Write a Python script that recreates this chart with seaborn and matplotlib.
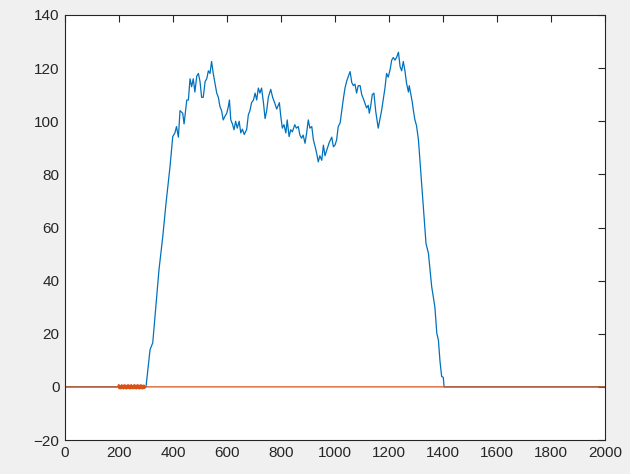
import numpy as np
import pandas as pd
import matplotlib
matplotlib.use('Agg')
import matplotlib.pyplot as plt
import seaborn as sns

# ------------------------------------------------------------
# data
# ------------------------------------------------------------
blue_x = [0, 300, 315, 325, 333, 348, 362, 374, 389, 399, 407, 413, 420, 426, 436,
          441, 451, 457, 463, 469, 475, 481, 488, 494, 500, 506, 512, 519, 525, 531,
          537, 543, 549, 556, 562, 568, 574, 580, 586, 593, 599, 605, 609, 614, 620,
          626, 632, 638, 645, 651, 657, 664, 673, 679, 685, 691, 698, 704, 710, 716,
          722, 728, 735, 741, 747, 753, 762, 769, 778, 784, 794, 799, 805, 811, 818,
          823, 830, 836, 842, 851, 857, 864, 870, 876, 882, 889, 895, 901, 907, 914,
          920, 926, 932, 938, 944, 951, 957, 963, 969, 979, 988, 994, 1000, 1006, 1012,
          1019, 1025, 1031, 1037, 1043, 1049, 1056, 1062, 1068, 1074, 1080, 1086, 1093,
          1099, 1105, 1111, 1117, 1123, 1127, 1132, 1138, 1144, 1151, 1157, 1160, 1167,
          1173, 1179, 1185, 1191, 1197, 1204, 1210, 1216, 1222, 1228, 1235, 1241, 1247,
          1253, 1259, 1265, 1272, 1275, 1280, 1286, 1290, 1296, 1302, 1309, 1321, 1327,
          1337, 1346, 1358, 1364, 1370, 1377, 1383, 1389, 1395, 1401, 1404, 2000]
blue_y = [0, 0, 14, 16.6, 26, 44, 56.5, 69, 83, 94.2, 95.6, 98, 94, 104, 103,
          99, 108, 108, 116, 113, 116, 111, 117, 118, 115, 109, 109, 115, 116, 119,
          118, 122.5, 118, 114, 110.6, 109, 105.5, 104, 100.5, 102, 103, 105.5, 108, 100.5, 99,
          96.8, 100, 97.4, 100, 95.6, 97, 95, 97, 102.4, 104, 107, 108, 110.6, 108, 112.5,
          110.6, 112.5, 107, 101, 104, 109, 112, 109, 106.5, 104.6, 107, 102, 97.4, 98.7, 95.6,
          100.5, 94.2, 96.8, 96, 98.7, 97.4, 98, 94.8, 93.6, 94.8, 91.7, 95.6, 100.5, 97.4, 98,
          93, 90.6, 88, 84.7, 87, 85.3, 91, 87, 89, 92.1, 94, 90.4, 91, 93, 98,
          99.4, 104, 108.5, 112.5, 115, 116.8, 118.7, 114.6, 113.4, 114, 110.6, 113.4, 113.4,
          110, 108.5, 106.8, 105, 106, 103, 105.5, 110, 110.6, 103.6, 99.3, 97.4, 101,
          104.3, 108.5, 112.5, 118, 116.6, 119.4, 123, 124, 123, 124, 126, 120.6, 119,
          122.5, 119, 114.3, 111, 113.4, 110.6, 107.3, 104.3, 100.5, 98.3, 93, 76.7, 68,
          54, 50.3, 37.8, 34, 30, 20.2, 17.6, 9.5, 3.9, 3.6, 0, 0]

# orange trace: flat at zero, jittery burst between ~200 and ~300
orange_x = [0, 196, 198, 200, 202, 204, 206, 208, 210, 212, 214, 216, 218, 220, 222,
            224, 226, 228, 230, 232, 234, 236, 238, 240, 242, 244, 246, 248, 250, 252,
            254, 256, 258, 260, 262, 264, 266, 268, 270, 272, 274, 276, 278, 280, 282,
            284, 286, 288, 290, 292, 294, 296, 298, 2000]
orange_y = [0, 0, 0.8, -0.6, 0.7, -0.8, 0.5, -0.7, 0.8, -0.5, 0.6, -0.8, 0.7, -0.6, 0.8,
            -0.7, 0.5, -0.8, 0.7, -0.6, 0.8, -0.5, 0.6, -0.8, 0.7, -0.7, 0.8, -0.6, 0.5, -0.8,
            0.7, -0.6, 0.8, -0.7, 0.6, -0.8, 0.7, -0.5, 0.8, -0.7, 0.6, -0.8, 0.7, -0.6, 0.8,
            -0.7, 0.5, -0.8, 0.7, -0.6, 0.6, -0.5, 0, 0]

x_ticks = [0, 200, 400, 600, 800, 1000, 1200, 1400, 1600, 1800, 2000]
y_ticks = [-20, 0, 20, 40, 60, 80, 100, 120, 140]

blue_df = pd.DataFrame({'x': blue_x, 'y': blue_y})
orange_df = pd.DataFrame({'x': orange_x, 'y': orange_y})

# ------------------------------------------------------------
# plot
# ------------------------------------------------------------
sns.set_style('white')
plt.rcParams['font.family'] = ['Liberation Sans', 'DejaVu Sans']

fig = plt.figure(figsize=(6.3, 4.74), dpi=100, facecolor='#f0f0f0')
ax = fig.add_axes([65/630, 34/474, 540/630, 425/474])
ax.set_facecolor('white')

sns.lineplot(data=blue_df, x='x', y='y', ax=ax, color='#0072bd',
             linewidth=0.9, estimator=None, sort=False)
sns.lineplot(data=orange_df, x='x', y='y', ax=ax, color='#d95319',
             linewidth=0.9, estimator=None, sort=False)

ax.set_xlim(0, 2000)
ax.set_ylim(-20, 140)
ax.set_xticks(x_ticks)
ax.set_yticks(y_ticks)
ax.set_xlabel('')
ax.set_ylabel('')

for side in ['left', 'right', 'top', 'bottom']:
    ax.spines[side].set_visible(True)
    ax.spines[side].set_color('#262626')
    ax.spines[side].set_linewidth(0.8)

ax.tick_params(direction='in', length=5, width=0.8, colors='#262626',
               labelsize=11, top=True, right=True, pad=4)

plt.savefig('out.png', dpi=100, facecolor=fig.get_facecolor())
